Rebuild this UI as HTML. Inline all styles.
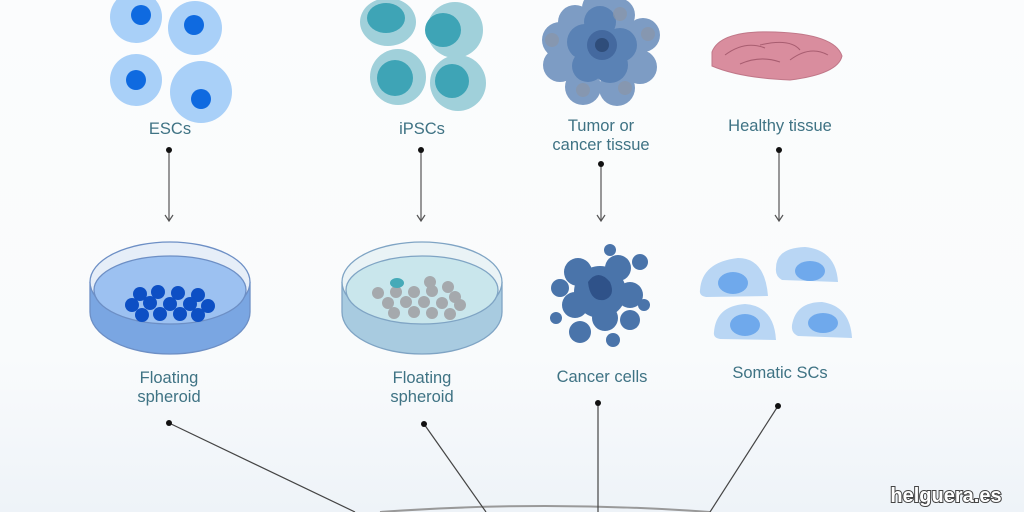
<!DOCTYPE html>
<html><head><meta charset="utf-8"><style>
html,body{margin:0;padding:0}
body{width:1024px;height:512px;overflow:hidden;background:linear-gradient(#fbfcfd 0%,#f9fbfc 70%,#eef3f8 100%);font-family:"Liberation Sans",sans-serif}
svg{display:block}
text{font-family:"Liberation Sans",sans-serif;font-size:16.5px;fill:#3f7384;text-anchor:middle}
</style></head><body>
<svg width="1024" height="512" viewBox="0 0 1024 512">
<!-- ESCs -->
<g fill="#a9d0f8"><circle cx="136" cy="17" r="26"/><circle cx="195" cy="28" r="27"/><circle cx="136" cy="80" r="26"/><circle cx="201" cy="92" r="31"/></g>
<g fill="#0f6ae0"><circle cx="141" cy="15" r="10"/><circle cx="194" cy="25" r="10"/><circle cx="136" cy="80" r="10"/><circle cx="201" cy="99" r="10"/></g>
<text x="170" y="134">ESCs</text>
<!-- iPSCs -->
<g fill="#a0d0da"><ellipse cx="388" cy="22" rx="28" ry="24"/><ellipse cx="455" cy="30" rx="28" ry="28"/><ellipse cx="398" cy="77" rx="28" ry="28"/><ellipse cx="458" cy="83" rx="28" ry="28"/></g>
<g fill="#3ea4b6"><ellipse cx="386" cy="18" rx="19" ry="15"/><ellipse cx="443" cy="30" rx="18" ry="17"/><ellipse cx="395" cy="78" rx="18" ry="18"/><ellipse cx="452" cy="81" rx="17" ry="17"/></g>
<text x="422" y="134">iPSCs</text>
<!-- Tumor -->
<g fill="#7d9cc4"><circle cx="560" cy="40" r="18"/><circle cx="575" cy="22" r="17"/><circle cx="618" cy="15" r="17"/><circle cx="643" cy="35" r="17"/><circle cx="640" cy="67" r="17"/><circle cx="617" cy="88" r="18"/><circle cx="583" cy="87" r="18"/><circle cx="560" cy="65" r="17"/><circle cx="598" cy="8" r="16"/></g>
<g fill="#5a82b5"><circle cx="585" cy="42" r="18"/><circle cx="600" cy="22" r="16"/><circle cx="620" cy="45" r="17"/><circle cx="610" cy="65" r="18"/><circle cx="588" cy="66" r="16"/></g>
<circle cx="602" cy="45" r="15" fill="#44699f"/><circle cx="602" cy="45" r="7" fill="#2f4d7a"/>
<g fill="#8a96a8" opacity=".7"><circle cx="552" cy="40" r="7"/><circle cx="620" cy="14" r="7"/><circle cx="648" cy="34" r="7"/><circle cx="625" cy="88" r="7"/><circle cx="583" cy="90" r="7"/></g>
<text x="601" y="131">Tumor or</text><text x="601" y="150">cancer tissue</text>
<!-- Healthy tissue -->
<path d="M712 52 Q720 30 775 32 Q835 34 842 56 Q838 74 790 80 Q740 78 712 66 Z" fill="#d98d9e" stroke="#c07788" stroke-width="1"/>
<path d="M725 55 Q745 40 765 48 M760 45 Q790 38 800 50 M790 60 Q810 45 828 55 M740 64 Q760 55 780 62" fill="none" stroke="#a85d70" stroke-width="1"/>
<text x="780" y="131">Healthy tissue</text>
<!-- arrows -->
<g stroke="#555" stroke-width="1.2" fill="none">
<line x1="169" y1="150" x2="169" y2="221"/><path d="M165 215 L169 221 L173 215"/>
<line x1="421" y1="150" x2="421" y2="221"/><path d="M417 215 L421 221 L425 215"/>
<line x1="601" y1="164" x2="601" y2="221"/><path d="M597 215 L601 221 L605 215"/>
<line x1="779" y1="150" x2="779" y2="221"/><path d="M775 215 L779 221 L783 215"/>
</g>
<g fill="#111"><circle cx="169" cy="150" r="3"/><circle cx="421" cy="150" r="3"/><circle cx="601" cy="164" r="3"/><circle cx="779" cy="150" r="3"/></g>
<!-- dish 1 -->
<g stroke="#6d8fc5" stroke-width="1.3">
<path d="M90 282 L90 312 A80 42 0 0 0 250 312 L250 282" fill="#7aa6e2"/>
<ellipse cx="170" cy="282" rx="80" ry="40" fill="#e6eef8"/>
<ellipse cx="170" cy="290" rx="76" ry="34" fill="#9cc1f1"/>
</g>
<g fill="#0d4fc4"><circle cx="140" cy="294" r="7"/><circle cx="158" cy="292" r="7"/><circle cx="178" cy="293" r="7"/><circle cx="198" cy="295" r="7"/><circle cx="132" cy="305" r="7"/><circle cx="150" cy="303" r="7"/><circle cx="170" cy="304" r="7"/><circle cx="190" cy="304" r="7"/><circle cx="208" cy="306" r="7"/><circle cx="142" cy="315" r="7"/><circle cx="160" cy="314" r="7"/><circle cx="180" cy="314" r="7"/><circle cx="198" cy="315" r="7"/></g>
<text x="169" y="383">Floating</text><text x="169" y="402">spheroid</text>
<!-- dish 2 -->
<g stroke="#7fa4c4" stroke-width="1.3">
<path d="M342 282 L342 312 A80 42 0 0 0 502 312 L502 282" fill="#a8cbe0"/>
<ellipse cx="422" cy="282" rx="80" ry="40" fill="#eaf3f6"/>
<ellipse cx="422" cy="290" rx="76" ry="34" fill="#c9e6ec"/>
</g>
<g fill="#a5a9ad"><circle cx="378" cy="293" r="6"/><circle cx="396" cy="292" r="6"/><circle cx="414" cy="292" r="6"/><circle cx="432" cy="291" r="6"/><circle cx="430" cy="282" r="6"/><circle cx="448" cy="287" r="6"/><circle cx="455" cy="297" r="6"/><circle cx="388" cy="303" r="6"/><circle cx="406" cy="302" r="6"/><circle cx="424" cy="302" r="6"/><circle cx="442" cy="303" r="6"/><circle cx="460" cy="305" r="6"/><circle cx="394" cy="313" r="6"/><circle cx="414" cy="312" r="6"/><circle cx="432" cy="313" r="6"/><circle cx="450" cy="314" r="6"/></g>
<ellipse cx="397" cy="283" rx="7" ry="5" fill="#45aab8"/>
<text x="422" y="383">Floating</text><text x="422" y="402">spheroid</text>
<!-- cancer cells -->
<g fill="#4a74aa"><circle cx="600" cy="292" r="26"/><circle cx="578" cy="272" r="14"/><circle cx="618" cy="268" r="13"/><circle cx="630" cy="295" r="13"/><circle cx="575" cy="305" r="13"/><circle cx="605" cy="318" r="13"/><circle cx="630" cy="320" r="10"/><circle cx="560" cy="288" r="9"/><circle cx="580" cy="332" r="11"/><circle cx="613" cy="340" r="7"/><circle cx="640" cy="262" r="8"/><circle cx="610" cy="250" r="6"/><circle cx="556" cy="318" r="6"/><circle cx="644" cy="305" r="6"/></g>
<path d="M588 282 Q598 268 610 282 Q616 296 604 300 Q590 302 588 282Z" fill="#2f5289"/>
<text x="602" y="382">Cancer cells</text>
<!-- somatic -->
<g fill="#b9d6f4"><path d="M700 290 Q702 262 738 258 Q765 258 768 296 L706 297 Q699 296 700 290Z"/><path d="M776 268 Q776 248 805 247 Q836 250 838 282 L782 280 Q775 276 776 268Z"/><path d="M714 332 Q716 306 745 304 Q774 306 776 340 L720 339 Q713 338 714 332Z"/><path d="M792 325 Q796 302 822 302 Q850 306 852 338 L798 336 Q791 333 792 325Z"/></g>
<g fill="#6fa9ec"><ellipse cx="733" cy="283" rx="15" ry="11"/><ellipse cx="810" cy="271" rx="15" ry="10"/><ellipse cx="745" cy="325" rx="15" ry="11"/><ellipse cx="823" cy="323" rx="15" ry="10"/></g>
<text x="780" y="378">Somatic SCs</text>
<!-- bottom lines -->
<path d="M380 512 Q545 500 710 512" fill="none" stroke="#999" stroke-width="2"/>
<g stroke="#444" stroke-width="1.2"><line x1="169" y1="423" x2="355" y2="512"/><line x1="424" y1="424" x2="486" y2="512"/><line x1="598" y1="403" x2="598" y2="512"/><line x1="778" y1="406" x2="710" y2="512"/></g>
<g fill="#111"><circle cx="169" cy="423" r="3"/><circle cx="424" cy="424" r="3"/><circle cx="598" cy="403" r="3"/><circle cx="778" cy="406" r="3"/></g>
<text x="946" y="502" style="font-size:20px;font-weight:bold;fill:#fff;stroke:#444;stroke-width:2px;paint-order:stroke">helguera.es</text>
</svg>
</body></html>
